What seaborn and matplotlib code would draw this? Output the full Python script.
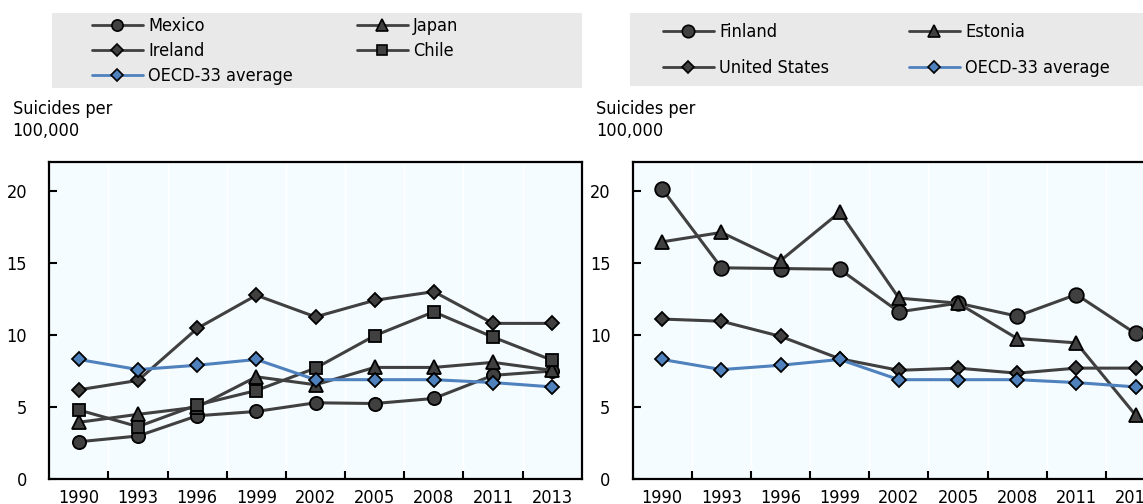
import matplotlib
matplotlib.use('Agg')
import matplotlib.pyplot as plt
import seaborn as sns
from matplotlib import font_manager
from matplotlib.lines import Line2D
from matplotlib.patches import Rectangle

years = ['1990', '1993', '1996', '1999', '2002', '2005', '2008', '2011', '2013']

mexico = [2.6, 3.0, 4.4, 4.7, 5.3, 5.25, 5.6, 7.2, 7.5]
japan = [3.95, 4.5, 5.0, 7.1, 6.55, 7.75, 7.75, 8.1, 7.55]
ireland = [6.2, 6.85, 10.45, 12.75, 11.25, 12.4, 13.0, 10.8, 10.8]
chile = [4.8, 3.65, 5.15, 6.15, 7.7, 9.95, 11.6, 9.85, 8.25]

finland = [20.1, 14.65, 14.6, 14.55, 11.6, 12.2, 11.3, 12.8, 10.1]
estonia = [16.45, 17.1, 15.15, 18.5, 12.55, 12.2, 9.75, 9.45, 4.45]
united_states = [11.1, 10.95, 9.9, 8.35, 7.55, 7.7, 7.35, 7.7, 7.7]

oecd = [8.3, 7.6, 7.9, 8.3, 6.9, 6.9, 6.9, 6.7, 6.4]

dark = '#404040'
blue = '#4F81BD'

sns.set_style('white')

# look for a narrow / condensed sans face
names = [(f.name, f.stretch) for f in font_manager.fontManager.ttflist]
fam, stretch, FS = 'Liberation Sans', 'normal', 13
if any(n == 'Liberation Sans Narrow' for n, _ in names):
    fam, FS = 'Liberation Sans Narrow', 14
elif any(n == 'DejaVu Sans' and s in ('condensed', 'semi-condensed', 500, 600)
         for n, s in names):
    fam, stretch, FS = 'DejaVu Sans', 'condensed', 13
elif any(n == 'Roboto Condensed' for n, _ in names):
    fam, FS = 'Roboto Condensed', 13.5

plt.rcParams['font.family'] = [fam, 'DejaVu Sans']
plt.rcParams['font.stretch'] = stretch
plt.rcParams['text.color'] = 'black'
plt.rcParams['xtick.color'] = 'black'
plt.rcParams['ytick.color'] = 'black'

W, H = 1143, 504
fig = plt.figure(figsize=(W / 100, H / 100), dpi=100)


def px(x0, y0, x1, y1):
    return [x0 / W, 1 - y1 / H, (x1 - x0) / W, (y1 - y0) / H]


ax1 = fig.add_axes(px(49.3, 161.7, 581.7, 479.3))
ax2 = fig.add_axes(px(632.7, 161.7, 1165.1, 479.3))

styles = {
    'Mexico': dict(marker='o', ms=9.5, color=dark),
    'Japan': dict(marker='^', ms=9.5, color=dark),
    'Ireland': dict(marker='D', ms=7, color=dark),
    'Chile': dict(marker='s', ms=8.5, color=dark),
    'Finland': dict(marker='o', ms=10.5, color=dark),
    'Estonia': dict(marker='^', ms=10.5, color=dark),
    'United States': dict(marker='D', ms=7.5, color=dark),
    'OECD-33 average': dict(marker='D', ms=7, color=blue),
}

left_series = [('Mexico', mexico), ('Japan', japan), ('Ireland', ireland),
               ('Chile', chile), ('OECD-33 average', oecd)]
right_series = [('Finland', finland), ('Estonia', estonia),
                ('United States', united_states), ('OECD-33 average', oecd)]


def draw(ax, series):
    for name, vals in series:
        st = styles[name]
        sns.pointplot(x=years, y=vals, order=years, ax=ax, color=st['color'],
                      markers=st['marker'], markersize=st['ms'], linewidth=2.2,
                      markeredgecolor='black', markeredgewidth=1.3,
                      errorbar=None)
    ax.set_facecolor('#F5FCFF')
    ax.set_xlim(-0.5, 8.5)
    ax.set_ylim(0, 22)
    ax.set_yticks([0, 5, 10, 15, 20])
    ax.set_xticks([i + 0.5 for i in range(8)], minor=True)
    ax.tick_params(axis='x', which='major', length=0, pad=7, labelsize=FS)
    ax.tick_params(axis='x', which='minor', direction='in', length=6, width=1.5,
                   bottom=True, color='black')
    ax.tick_params(axis='y', which='major', direction='in', length=6, width=1.5,
                   left=True, pad=16, labelsize=FS, color='black')
    ax.grid(axis='x', which='minor', color='white', linewidth=1.0)
    ax.set_axisbelow(True)
    for s in ax.spines.values():
        s.set_visible(True)
        s.set_color('black')
        s.set_linewidth(1.6)
    ax.set_xlabel('')
    ax.set_ylabel('')


draw(ax1, left_series)
draw(ax2, right_series)

for xp in (12.7, 596):
    fig.text(xp / W, 1 - 100 / H, 'Suicides per\n100,000', fontsize=FS,
             ha='left', va='top', linespacing=1.25)

# legend backgrounds
fig.patches.append(Rectangle((51.7 / W, 1 - 88.3 / H), (581.7 - 51.7) / W,
                             (88.3 - 12.7) / H, transform=fig.transFigure,
                             facecolor='#E9E9E9', edgecolor='none', zorder=0))
fig.patches.append(Rectangle((630 / W, 1 - 85.7 / H), (1143 - 630) / W,
                             (85.7 - 13) / H, transform=fig.transFigure,
                             facecolor='#E9E9E9', edgecolor='none', zorder=0))


def handle(name):
    st = styles[name]
    return Line2D([], [], color=st['color'], marker=st['marker'],
                  markersize=st['ms'] * 0.85, markerfacecolor=st['color'],
                  markeredgecolor='black', markeredgewidth=1.2, linewidth=2.0)


def col_legend(names, x, y, spacing):
    leg = fig.legend([handle(n) for n in names], names, loc='upper left',
                     bbox_to_anchor=(x / W, 1 - y / H), frameon=False,
                     fontsize=FS, handlelength=2.8, handletextpad=0.3,
                     borderpad=0, borderaxespad=0, labelspacing=spacing)
    return leg


col_legend(['Mexico', 'Ireland', 'OECD-33 average'], 92, 17, 0.4)
col_legend(['Japan', 'Chile'], 357, 17, 0.4)
col_legend(['Finland', 'United States'], 663, 23, 1.0)
col_legend(['Estonia', 'OECD-33 average'], 909, 23, 1.0)

fig.savefig('out.png', dpi=100)
